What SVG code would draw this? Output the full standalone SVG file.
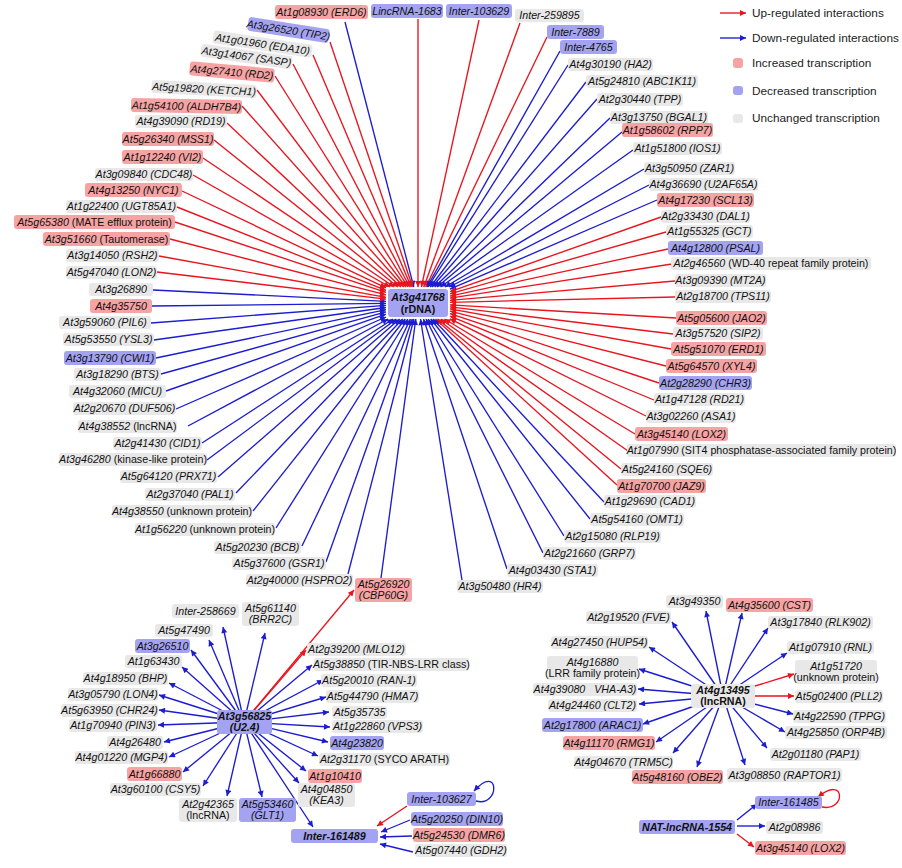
<svg xmlns="http://www.w3.org/2000/svg" width="902" height="868" viewBox="0 0 902 868">
<style>
.p{fill:#f5a3a3}.b{fill:#a3a3f2}.g{fill:#e8e8e8}
rect{rx:3px}
text{font-family:"Liberation Sans",Arial,sans-serif;font-size:10.7px;font-style:italic;fill:#111;text-anchor:middle}
.n{font-style:normal}
.bd{font-weight:bold}
.lg{font-style:normal;font-size:11.8px;text-anchor:start;fill:#222}
.lr{stroke:#e8141e;stroke-width:1.35;fill:none;marker-end:url(#mr)}
.lb{stroke:#1c1cd0;stroke-width:1.35;fill:none;marker-end:url(#mb)}
</style>
<defs>
<marker id="mr" viewBox="0 0 10 10" refX="10" refY="5" markerWidth="8" markerHeight="6" orient="auto" markerUnits="userSpaceOnUse"><path d="M0,0L10,5L0,10z" fill="#e8141e"/></marker>
<marker id="mb" viewBox="0 0 10 10" refX="10" refY="5" markerWidth="8" markerHeight="6" orient="auto" markerUnits="userSpaceOnUse"><path d="M0,0L10,5L0,10z" fill="#1c1cd0"/></marker>
</defs>
<rect x="0" y="0" width="902" height="868" fill="#fff" rx="0"/>

<g id="legend">
<line class="lr" x1="720" y1="13" x2="746" y2="13"/>
<text class="lg" x="752" y="17">Up-regulated interactions</text>
<line class="lb" x1="720" y1="38" x2="746" y2="38"/>
<text class="lg" x="752" y="42">Down-regulated interactions</text>
<rect class="p" x="733" y="58" width="10" height="10" rx="0"/>
<text class="lg" x="752" y="67">Increased transcription</text>
<rect class="b" x="733" y="86" width="10" height="9" rx="0"/>
<text class="lg" x="752" y="95">Decreased transcription</text>
<rect class="g" x="733" y="114" width="10" height="9" rx="0"/>
<text class="lg" x="752" y="122">Unchanged transcription</text>
</g>

<g id="connectors">
<line class="lb" x1="345" y1="22" x2="413.8" y2="287"/>
<line class="lr" x1="418" y1="19" x2="418" y2="287"/>
<line class="lr" x1="479" y1="20" x2="421.4" y2="287"/>
<line class="lr" x1="520" y1="23" x2="423.8" y2="287"/>
<line class="lr" x1="547" y1="37" x2="425.8" y2="287"/>
<line class="lb" x1="560" y1="51" x2="427" y2="287"/>
<line class="lb" x1="568" y1="65" x2="428.1" y2="287"/>
<line class="lb" x1="586" y1="82" x2="430.2" y2="287"/>
<line class="lb" x1="597" y1="99" x2="432" y2="287"/>
<line class="lb" x1="610" y1="118" x2="434.6" y2="287"/>
<line class="lb" x1="622" y1="132" x2="437.1" y2="287"/>
<line class="lb" x1="633" y1="150" x2="440.5" y2="287"/>
<line class="lb" x1="644" y1="169" x2="445" y2="287"/>
<line class="lb" x1="649" y1="185" x2="449.3" y2="287"/>
<line class="lb" x1="657" y1="200" x2="450" y2="289.2"/>
<line class="lr" x1="661" y1="217" x2="450" y2="291.7"/>
<line class="lr" x1="666" y1="232" x2="450" y2="293.8"/>
<line class="lr" x1="668" y1="249" x2="450" y2="296.1"/>
<line class="lr" x1="672" y1="264" x2="450" y2="298.1"/>
<line class="lr" x1="675" y1="281" x2="450" y2="300.3"/>
<line class="lr" x1="675" y1="297" x2="450" y2="302.3"/>
<line class="lr" x1="676" y1="318" x2="450" y2="304.9"/>
<line class="lr" x1="673" y1="334" x2="450" y2="306.9"/>
<line class="lr" x1="671" y1="349" x2="450" y2="308.8"/>
<line class="lr" x1="666" y1="366" x2="450" y2="311.1"/>
<line class="lr" x1="659" y1="383" x2="450" y2="313.6"/>
<line class="lr" x1="654" y1="400" x2="450" y2="316.2"/>
<line class="lr" x1="646" y1="416" x2="450" y2="318.9"/>
<line class="lr" x1="635" y1="434" x2="444.5" y2="319"/>
<line class="lr" x1="628" y1="451" x2="440.7" y2="319"/>
<line class="lr" x1="621" y1="469" x2="437.6" y2="319"/>
<line class="lr" x1="617" y1="485" x2="435.5" y2="319"/>
<line class="lb" x1="604" y1="502" x2="433" y2="319"/>
<line class="lb" x1="590" y1="519" x2="430.7" y2="319"/>
<line class="lb" x1="564" y1="536" x2="428.1" y2="319"/>
<line class="lb" x1="543" y1="553" x2="426" y2="319"/>
<line class="lb" x1="507" y1="569" x2="423.5" y2="319"/>
<line class="lb" x1="462" y1="580" x2="420.5" y2="319"/>
<line class="lb" x1="381" y1="578" x2="415.8" y2="319"/>
<line class="lb" x1="348" y1="574" x2="413.9" y2="319"/>
<line class="lb" x1="326" y1="562" x2="412.3" y2="319"/>
<line class="lb" x1="302" y1="546" x2="410.4" y2="319"/>
<line class="lb" x1="276" y1="528" x2="407.9" y2="319"/>
<line class="lb" x1="253" y1="511" x2="405.3" y2="319"/>
<line class="lb" x1="236" y1="493" x2="402.7" y2="319"/>
<line class="lb" x1="218" y1="477" x2="399.6" y2="319"/>
<line class="lb" x1="207" y1="460" x2="396.4" y2="319"/>
<line class="lb" x1="202" y1="443" x2="393.1" y2="319"/>
<line class="lb" x1="188" y1="426" x2="388.1" y2="319"/>
<line class="lb" x1="176" y1="409" x2="386" y2="317"/>
<line class="lb" x1="166" y1="391" x2="386" y2="314.2"/>
<line class="lb" x1="161" y1="374" x2="386" y2="311.8"/>
<line class="lb" x1="156" y1="358" x2="386" y2="309.7"/>
<line class="lb" x1="154" y1="340" x2="386" y2="307.5"/>
<line class="lb" x1="151" y1="323" x2="386" y2="305.4"/>
<line class="lb" x1="152" y1="306" x2="386" y2="303.4"/>
<line class="lb" x1="153" y1="290" x2="386" y2="301.4"/>
<line class="lr" x1="157" y1="272" x2="386" y2="299.2"/>
<line class="lr" x1="159" y1="256" x2="386" y2="297.3"/>
<line class="lr" x1="170" y1="239" x2="386" y2="294.9"/>
<line class="lr" x1="175" y1="222" x2="386" y2="292.3"/>
<line class="lr" x1="177" y1="207" x2="386" y2="290.3"/>
<line class="lr" x1="182" y1="191" x2="386" y2="287.8"/>
<line class="lr" x1="193" y1="175" x2="389.9" y2="287"/>
<line class="lr" x1="203" y1="158" x2="394.3" y2="287"/>
<line class="lr" x1="214" y1="140" x2="398" y2="287"/>
<line class="lr" x1="227" y1="123" x2="401" y2="287"/>
<line class="lr" x1="242" y1="106" x2="403.7" y2="287"/>
<line class="lr" x1="257" y1="90" x2="405.9" y2="287"/>
<line class="lr" x1="275" y1="76" x2="407.9" y2="287"/>
<line class="lr" x1="293" y1="64" x2="409.6" y2="287"/>
<line class="lr" x1="313" y1="55" x2="411.2" y2="287"/>
<line class="lr" x1="330" y1="42" x2="412.6" y2="287"/>

<line class="lr" x1="244" y1="722" x2="354" y2="590"/>
<line class="lr" x1="244" y1="722" x2="306" y2="650"/>
<line class="lb" x1="244" y1="722" x2="223" y2="627"/>
<line class="lb" x1="244" y1="722" x2="265" y2="633"/>
<line class="lb" x1="244" y1="722" x2="209" y2="640"/>
<line class="lb" x1="244" y1="722" x2="191" y2="650"/>
<line class="lb" x1="244" y1="722" x2="182" y2="667"/>
<line class="lb" x1="244" y1="722" x2="169" y2="683"/>
<line class="lb" x1="244" y1="722" x2="159" y2="695"/>
<line class="lb" x1="244" y1="722" x2="159" y2="710"/>
<line class="lb" x1="244" y1="722" x2="158" y2="725"/>
<line class="lb" x1="244" y1="722" x2="164" y2="742"/>
<line class="lb" x1="244" y1="722" x2="169" y2="757"/>
<line class="lb" x1="244" y1="722" x2="183" y2="772"/>
<line class="lb" x1="244" y1="722" x2="203" y2="786"/>
<line class="lb" x1="244" y1="722" x2="227" y2="796"/>
<line class="lb" x1="244" y1="722" x2="262" y2="797"/>
<line class="lb" x1="244" y1="722" x2="313" y2="827"/>
<line class="lb" x1="244" y1="722" x2="299" y2="783"/>
<line class="lb" x1="244" y1="722" x2="306" y2="771"/>
<line class="lb" x1="244" y1="722" x2="318" y2="756"/>
<line class="lb" x1="244" y1="722" x2="328" y2="742"/>
<line class="lb" x1="244" y1="722" x2="330" y2="727"/>
<line class="lb" x1="244" y1="722" x2="329" y2="712"/>
<line class="lb" x1="244" y1="722" x2="326" y2="697"/>
<line class="lb" x1="244" y1="722" x2="323" y2="680"/>
<line class="lb" x1="244" y1="722" x2="312" y2="665"/>

<line class="lr" x1="407" y1="806" x2="377" y2="826"/>
<line class="lb" x1="410" y1="820" x2="381" y2="832"/>
<line class="lb" x1="412" y1="836" x2="380" y2="837"/>
<line class="lb" x1="413" y1="852" x2="380" y2="844"/>
<path class="lb" d="M476,801 C500,808 500,762 474,791"/>

<line class="lb" x1="723" y1="696" x2="706" y2="611"/>
<line class="lb" x1="723" y1="696" x2="742" y2="613"/>
<line class="lb" x1="723" y1="696" x2="672" y2="622"/>
<line class="lb" x1="723" y1="696" x2="768" y2="628"/>
<line class="lb" x1="723" y1="696" x2="649" y2="647"/>
<line class="lb" x1="723" y1="696" x2="787" y2="653"/>
<line class="lb" x1="723" y1="696" x2="639" y2="669"/>
<line class="lr" x1="723" y1="696" x2="794" y2="674"/>
<line class="lb" x1="723" y1="696" x2="638" y2="689"/>
<line class="lr" x1="723" y1="696" x2="794" y2="696"/>
<line class="lb" x1="723" y1="696" x2="639" y2="704"/>
<line class="lb" x1="723" y1="696" x2="793" y2="714"/>
<line class="lb" x1="723" y1="696" x2="643" y2="724"/>
<line class="lb" x1="723" y1="696" x2="785" y2="732"/>
<line class="lb" x1="723" y1="696" x2="656" y2="742"/>
<line class="lb" x1="723" y1="696" x2="767" y2="748"/>
<line class="lb" x1="723" y1="696" x2="673" y2="753"/>
<line class="lb" x1="723" y1="696" x2="697" y2="767"/>
<line class="lb" x1="723" y1="696" x2="745" y2="765"/>

<line class="lb" x1="737" y1="820" x2="757" y2="804"/>
<line class="lb" x1="737" y1="826" x2="765" y2="826"/>
<line class="lr" x1="737" y1="834" x2="754" y2="847"/>
<path class="lr" d="M822,807 C846,812 846,774 818,797"/>
</g>

<g id="n-rDNA"><rect class="b" x="388" y="289" width="60" height="28"/><text class="bd" x="418" y="300.5">At3g41768</text><text class="bd n" x="418" y="313">(rDNA)</text></g>

<g id="n-ERD6"><rect class="p" x="275" y="5" width="93" height="14"/><text x="321.5" y="15.5">At1g08930 (ERD6)</text></g>
<g id="n-LincRNA-1683"><rect class="b" x="371" y="4" width="72" height="14"/><text x="407" y="14.5">LincRNA-1683</text></g>
<g id="n-Inter-103629"><rect class="b" x="446" y="4" width="66" height="14"/><text x="479" y="14.5">Inter-103629</text></g>
<g id="n-Inter-259895"><rect class="g" x="515" y="9" width="69" height="13"/><text x="549.5" y="19">Inter-259895</text></g>
<g id="n-Inter-7889"><rect class="b" x="547" y="25" width="57" height="14"/><text x="575.5" y="35.5">Inter-7889</text></g>
<g id="n-Inter-4765"><rect class="b" x="560" y="40" width="57" height="14"/><text x="588.5" y="50.5">Inter-4765</text></g>
<g id="n-HA2"><rect class="g" x="568" y="58" width="85" height="13"/><text x="610.5" y="68">At4g30190 (HA2)</text></g>
<g id="n-ABC1K11"><rect class="g" x="586" y="75" width="112" height="13"/><text x="642" y="85">At5g24810 (ABC1K11)</text></g>
<g id="n-TPP"><rect class="g" x="597" y="93" width="86" height="13"/><text x="640" y="103">At2g30440 (TPP)</text></g>
<g id="n-BGAL1"><rect class="g" x="610" y="111" width="98" height="13"/><text x="659" y="121">At3g13750 (BGAL1)</text></g>
<g id="n-RPP7"><rect class="p" x="622" y="123" width="91" height="14"/><text x="667.5" y="133.5">At1g58602 (RPP7)</text></g>
<g id="n-IOS1"><rect class="g" x="633" y="142" width="89" height="13"/><text x="677.5" y="152">At1g51800 (IOS1)</text></g>
<g id="n-ZAR1"><rect class="g" x="644" y="162" width="91" height="13"/><text x="689.5" y="172">At3g50950 (ZAR1)</text></g>
<g id="n-U2AF65A"><rect class="g" x="649" y="178" width="109" height="13"/><text x="703.5" y="188">At4g36690 (U2AF65A)</text></g>
<g id="n-SCL13"><rect class="p" x="657" y="193" width="97" height="14"/><text x="705.5" y="203.5">At4g17230 (SCL13)</text></g>
<g id="n-DAL1"><rect class="g" x="661" y="210" width="89" height="13"/><text x="705.5" y="220">At2g33430 (DAL1)</text></g>
<g id="n-GCT"><rect class="g" x="666" y="225" width="87" height="13"/><text x="709.5" y="235">At1g55325 (GCT)</text></g>
<g id="n-PSAL"><rect class="b" x="668" y="241" width="95" height="14"/><text x="715.5" y="251.5">At4g12800 (PSAL)</text></g>
<g id="n-WD40"><rect class="g" x="671" y="257" width="200" height="13"/><text x="771" y="267">At2g46560 <tspan class="n">(WD-40 repeat family protein)</tspan></text></g>
<g id="n-MT2A"><rect class="g" x="675" y="274" width="91" height="13"/><text x="720.5" y="284">At3g09390 (MT2A)</text></g>
<g id="n-TPS11"><rect class="g" x="675" y="290" width="96" height="13"/><text x="723" y="300">At2g18700 (TPS11)</text></g>
<g id="n-JAO2"><rect class="p" x="676" y="311" width="91" height="14"/><text x="721.5" y="321.5">At5g05600 (JAO2)</text></g>
<g id="n-SIP2"><rect class="g" x="673" y="327" width="90" height="13"/><text x="718" y="337">At3g57520 (SIP2)</text></g>
<g id="n-ERD1"><rect class="p" x="671" y="342" width="95" height="14"/><text x="718.5" y="352.5">At5g51070 (ERD1)</text></g>
<g id="n-XYL4"><rect class="p" x="666" y="359" width="91" height="14"/><text x="711.5" y="369.5">At5g64570 (XYL4)</text></g>
<g id="n-CHR3"><rect class="b" x="659" y="376" width="93" height="14"/><text x="705.5" y="386.5">At2g28290 (CHR3)</text></g>
<g id="n-RD21"><rect class="g" x="654" y="393" width="91" height="13"/><text x="699.5" y="403">At1g47128 (RD21)</text></g>
<g id="n-ASA1"><rect class="g" x="646" y="410" width="90" height="13"/><text x="691" y="420">At3g02260 (ASA1)</text></g>
<g id="n-LOX2a"><rect class="p" x="635" y="427" width="93" height="14"/><text x="681.5" y="437.5">At3g45140 (LOX2)</text></g>
<g id="n-SIT4"><rect class="g" x="627" y="444" width="269" height="13"/><text x="761.5" y="454">At1g07990 <tspan class="n">(SIT4 phosphatase-associated family protein)</tspan></text></g>
<g id="n-SQE6"><rect class="g" x="621" y="463" width="92" height="13"/><text x="667" y="473">At5g24160 (SQE6)</text></g>
<g id="n-JAZ9"><rect class="p" x="617" y="479" width="89" height="14"/><text x="661.5" y="489.5">At1g70700 (JAZ9)</text></g>
<g id="n-CAD1"><rect class="g" x="604" y="495" width="92" height="13"/><text x="650" y="505">At1g29690 (CAD1)</text></g>
<g id="n-OMT1"><rect class="g" x="590" y="513" width="94" height="13"/><text x="637" y="523">At5g54160 (OMT1)</text></g>
<g id="n-RLP19"><rect class="g" x="564" y="530" width="97" height="13"/><text x="612.5" y="540">At2g15080 (RLP19)</text></g>
<g id="n-GRP7"><rect class="g" x="543" y="547" width="93" height="13"/><text x="589.5" y="557">At2g21660 (GRP7)</text></g>
<g id="n-STA1"><rect class="g" x="507" y="564" width="91" height="13"/><text x="552.5" y="574">At4g03430 (STA1)</text></g>
<g id="n-HR4"><rect class="g" x="457" y="580" width="86" height="13"/><text x="500" y="590">At3g50480 (HR4)</text></g>

<g id="n-TIP2" transform="translate(288.5,30) rotate(9)"><rect class="b" x="-41" y="-7" width="82" height="14"/><text x="0" y="3.8">At3g26520 (TIP2)</text></g>
<g id="n-EDA10" transform="translate(262.5,44) rotate(8.5)"><rect class="g" x="-50" y="-6.5" width="100" height="13"/><text x="0" y="3.8">At1g01960 (EDA10)</text></g>
<g id="n-SASP" transform="translate(246.5,56.5) rotate(8)"><rect class="g" x="-46" y="-6.5" width="92" height="13"/><text x="0" y="3.8">At3g14067 (SASP)</text></g>
<g id="n-RD2" transform="translate(232,72) rotate(5)"><rect class="p" x="-42.5" y="-7" width="85" height="14"/><text x="0" y="3.8">At4g27410 (RD2)</text></g>
<g id="n-KETCH1" transform="translate(204,89) rotate(3)"><rect class="g" x="-52.5" y="-6.5" width="105" height="13"/><text x="0" y="3.8">At5g19820 (KETCH1)</text></g>
<g id="n-ALDH7B4" transform="translate(186.5,106) rotate(1)"><rect class="p" x="-55.5" y="-7" width="111" height="14"/><text x="0" y="3.8">At1g54100 (ALDH7B4)</text></g>
<g id="n-RD19"><rect class="g" x="135" y="115" width="92" height="13"/><text x="181" y="125">At4g39090 (RD19)</text></g>
<g id="n-MSS1"><rect class="p" x="122" y="132" width="92" height="14"/><text x="168" y="142.5">At5g26340 (MSS1)</text></g>
<g id="n-VI2"><rect class="p" x="122" y="150" width="81" height="14"/><text x="162.5" y="160.5">At1g12240 (VI2)</text></g>
<g id="n-CDC48"><rect class="g" x="95" y="168" width="98" height="13"/><text x="144" y="178">At3g09840 (CDC48)</text></g>
<g id="n-NYC1"><rect class="p" x="85" y="183" width="97" height="14"/><text x="133.5" y="193.5">At4g13250 (NYC1)</text></g>
<g id="n-UGT85A1"><rect class="g" x="66" y="200" width="111" height="13"/><text x="121.5" y="210">At1g22400 (UGT85A1)</text></g>
<g id="n-MATE"><rect class="p" x="14" y="215" width="161" height="14"/><text x="94.5" y="225.5">At5g65380 <tspan class="n">(MATE efflux protein)</tspan></text></g>
<g id="n-Tautomerase"><rect class="p" x="43" y="232" width="127" height="14"/><text x="106.5" y="242.5">At3g51660 <tspan class="n">(Tautomerase)</tspan></text></g>
<g id="n-RSH2"><rect class="g" x="66" y="249" width="93" height="13"/><text x="112.5" y="259">At3g14050 (RSH2)</text></g>
<g id="n-LON2"><rect class="g" x="66" y="266" width="91" height="13"/><text x="111.5" y="276">At5g47040 (LON2)</text></g>
<g id="n-At3g26890"><rect class="g" x="89" y="283" width="64" height="13"/><text x="121" y="293">At3g26890</text></g>
<g id="n-At4g35750"><rect class="p" x="90" y="299" width="62" height="14"/><text x="121" y="309.5">At4g35750</text></g>
<g id="n-PIL6"><rect class="g" x="59" y="316" width="92" height="13"/><text x="105" y="326">At3g59060 (PIL6)</text></g>
<g id="n-YSL3"><rect class="g" x="63" y="333" width="91" height="13"/><text x="108.5" y="343">At5g53550 (YSL3)</text></g>
<g id="n-CWI1"><rect class="b" x="64" y="351" width="92" height="14"/><text x="110" y="361.5">At3g13790 (CWI1)</text></g>
<g id="n-BTS"><rect class="g" x="74" y="368" width="87" height="13"/><text x="117.5" y="378">At3g18290 (BTS)</text></g>
<g id="n-MICU"><rect class="g" x="69" y="385" width="97" height="13"/><text x="117.5" y="395">At4g32060 (MICU)</text></g>
<g id="n-DUF506"><rect class="g" x="73" y="402" width="103" height="13"/><text x="124.5" y="412">At2g20670 (DUF506)</text></g>
<g id="n-At4g38552"><rect class="g" x="78" y="420" width="99" height="13"/><text x="127.5" y="430">At4g38552 <tspan class="n">(lncRNA)</tspan></text></g>
<g id="n-CID1"><rect class="g" x="113" y="437" width="89" height="13"/><text x="157.5" y="447">At2g41430 (CID1)</text></g>
<g id="n-At3g46280"><rect class="g" x="59" y="453" width="148" height="13"/><text x="133" y="463">At3g46280 <tspan class="n">(kinase-like protein)</tspan></text></g>
<g id="n-PRX71"><rect class="g" x="120" y="470" width="97" height="13"/><text x="168.5" y="480">At5g64120 (PRX71)</text></g>
<g id="n-PAL1"><rect class="g" x="145" y="488" width="90" height="13"/><text x="190" y="498">At2g37040 (PAL1)</text></g>
<g id="n-At4g38550"><rect class="g" x="112" y="505" width="140" height="13"/><text x="182" y="515">At4g38550 <tspan class="n">(unknown protein)</tspan></text></g>
<g id="n-At1g56220"><rect class="g" x="135" y="523" width="140" height="13"/><text x="205" y="533">At1g56220 <tspan class="n">(unknown protein)</tspan></text></g>
<g id="n-BCB"><rect class="g" x="214" y="541" width="87" height="13"/><text x="257.5" y="551">At5g20230 (BCB)</text></g>
<g id="n-GSR1"><rect class="g" x="232" y="557" width="94" height="13"/><text x="279" y="567">At5g37600 (GSR1)</text></g>
<g id="n-HSPRO2"><rect class="g" x="246" y="574" width="107" height="13"/><text x="299.5" y="584">At2g40000 (HSPRO2)</text></g>
<g id="n-CBP60G"><rect class="p" x="355" y="578" width="57" height="24"/><text x="383.5" y="588">At5g26920</text><text x="383.5" y="599">(CBP60G)</text></g>

<g id="n-U2.4"><rect class="b" x="217" y="710" width="55" height="24"/><text class="bd" x="244.5" y="720">At3g56825</text><text class="bd" x="244.5" y="731">(U2.4)</text></g>
<g id="n-Inter-258669"><rect class="g" x="172" y="604" width="67" height="14"/><text x="205.5" y="614.5">Inter-258669</text></g>
<g id="n-BRR2C"><rect class="g" x="242" y="602" width="57" height="24"/><text x="270.5" y="612">At5g61140</text><text x="270.5" y="623">(BRR2C)</text></g>
<g id="n-At5g47490"><rect class="g" x="155" y="624" width="58" height="13"/><text x="184" y="634">At5g47490</text></g>
<g id="n-At3g26510"><rect class="b" x="135" y="639" width="55" height="14"/><text x="162.5" y="649.5">At3g26510</text></g>
<g id="n-At1g63430"><rect class="g" x="125" y="655" width="57" height="13"/><text x="153.5" y="665">At1g63430</text></g>
<g id="n-BHP"><rect class="g" x="83" y="672" width="85" height="13"/><text x="125.5" y="682">At4g18950 (BHP)</text></g>
<g id="n-LON4"><rect class="g" x="68" y="688" width="90" height="13"/><text x="113" y="698">At3g05790 (LON4)</text></g>
<g id="n-CHR24"><rect class="g" x="61" y="704" width="97" height="13"/><text x="109.5" y="714">At5g63950 (CHR24)</text></g>
<g id="n-PIN3"><rect class="g" x="69" y="719" width="88" height="13"/><text x="113" y="729">At1g70940 (PIN3)</text></g>
<g id="n-At4g26480"><rect class="g" x="107" y="736" width="56" height="13"/><text x="135" y="746">At4g26480</text></g>
<g id="n-MGP4"><rect class="g" x="75" y="751" width="93" height="13"/><text x="121.5" y="761">At4g01220 (MGP4)</text></g>
<g id="n-At1g66880"><rect class="p" x="127" y="767" width="55" height="14"/><text x="154.5" y="777.5">At1g66880</text></g>
<g id="n-CSY5"><rect class="g" x="110" y="783" width="91" height="13"/><text x="155.5" y="793">At3g60100 (CSY5)</text></g>
<g id="n-At2g42365"><rect class="g" x="179" y="798" width="58" height="24"/><text x="208" y="808">At2g42365</text><text class="n" x="208" y="819">(lncRNA)</text></g>
<g id="n-GLT1"><rect class="b" x="239" y="798" width="57" height="24"/><text x="267.5" y="808">At5g53460</text><text x="267.5" y="819">(GLT1)</text></g>
<g id="n-KEA3"><rect class="g" x="298" y="783" width="57" height="24"/><text x="326.5" y="793">At4g04850</text><text x="326.5" y="804">(KEA3)</text></g>
<g id="n-At1g10410"><rect class="p" x="308" y="769" width="54" height="14"/><text x="335" y="779.5">At1g10410</text></g>
<g id="n-SYCO"><rect class="g" x="319" y="753" width="131" height="13"/><text x="384.5" y="763">At2g31170 <tspan class="n">(SYCO ARATH)</tspan></text></g>
<g id="n-At4g23820"><rect class="b" x="330" y="736" width="54" height="14"/><text x="357" y="746.5">At4g23820</text></g>
<g id="n-VPS3"><rect class="g" x="332" y="720" width="91" height="13"/><text x="377.5" y="730">At1g22860 (VPS3)</text></g>
<g id="n-At5g35735"><rect class="g" x="332" y="706" width="55" height="13"/><text x="359.5" y="716">At5g35735</text></g>
<g id="n-HMA7"><rect class="g" x="326" y="690" width="93" height="13"/><text x="372.5" y="700">At5g44790 (HMA7)</text></g>
<g id="n-RAN-1"><rect class="g" x="321" y="674" width="96" height="13"/><text x="369" y="684">At5g20010 (RAN-1)</text></g>
<g id="n-TIR"><rect class="g" x="314" y="658" width="155" height="13"/><text x="391.5" y="668">At5g38850 <tspan class="n">(TIR-NBS-LRR class)</tspan></text></g>
<g id="n-MLO12"><rect class="g" x="307" y="643" width="99" height="13"/><text x="356.5" y="653">At2g39200 (MLO12)</text></g>

<g id="n-Inter-161489"><rect class="b" x="291" y="829" width="87" height="14"/><text class="bd" x="334.5" y="839.5">Inter-161489</text></g>
<g id="n-Inter-103627"><rect class="b" x="407" y="792" width="69" height="14"/><text x="441.5" y="802.5">Inter-103627</text></g>
<g id="n-DIN10"><rect class="b" x="411" y="812" width="92" height="14"/><text x="457" y="822.5">At5g20250 (DIN10)</text></g>
<g id="n-DMR6"><rect class="p" x="413" y="828" width="92" height="14"/><text x="459" y="838.5">At5g24530 (DMR6)</text></g>
<g id="n-GDH2"><rect class="g" x="415" y="844" width="92" height="13"/><text x="461" y="854">At5g07440 (GDH2)</text></g>

<g id="n-At4g13495"><rect class="g" x="691" y="684" width="64" height="24"/><text class="bd" x="723" y="694">At4g13495</text><text class="bd n" x="723" y="705">(lncRNA)</text></g>
<g id="n-At3g49350"><rect class="g" x="666" y="595" width="57" height="13"/><text x="694.5" y="605">At3g49350</text></g>
<g id="n-CST"><rect class="p" x="726" y="598" width="87" height="14"/><text x="769.5" y="608.5">At4g35600 (CST)</text></g>
<g id="n-FVE"><rect class="g" x="586" y="611" width="85" height="13"/><text x="628.5" y="621">At2g19520 (FVE)</text></g>
<g id="n-RLK902"><rect class="g" x="768" y="616" width="105" height="13"/><text x="820.5" y="626">At3g17840 (RLK902)</text></g>
<g id="n-HUP54"><rect class="g" x="551" y="636" width="97" height="13"/><text x="599.5" y="646">At4g27450 (HUP54)</text></g>
<g id="n-RNL"><rect class="g" x="787" y="641" width="87" height="13"/><text x="830.5" y="651">At1g07910 (RNL)</text></g>
<g id="n-LRR"><rect class="g" x="547" y="656" width="91" height="24"/><text x="592.5" y="666">At4g16880</text><text class="n" x="592.5" y="677">(LRR family protein)</text></g>
<g id="n-At1g51720"><rect class="g" x="795" y="660" width="82" height="24"/><text x="836" y="670">At1g51720</text><text class="n" x="836" y="681">(unknown protein)</text></g>
<g id="n-VHA-A3"><rect class="g" x="533" y="683" width="104" height="13"/><text x="585" y="693">At4g39080&#160;&#160;&#160;VHA-A3)</text></g>
<g id="n-PLL2"><rect class="g" x="795" y="690" width="88" height="13"/><text x="839" y="700">At5g02400 (PLL2)</text></g>
<g id="n-CLT2"><rect class="g" x="548" y="699" width="89" height="13"/><text x="592.5" y="709">At4g24460 (CLT2)</text></g>
<g id="n-TPPG"><rect class="g" x="793" y="710" width="93" height="13"/><text x="839.5" y="720">At4g22590 (TPPG)</text></g>
<g id="n-ARAC1"><rect class="b" x="542" y="718" width="101" height="14"/><text x="592.5" y="728.5">At2g17800 (ARAC1)</text></g>
<g id="n-ORP4B"><rect class="g" x="785" y="726" width="102" height="13"/><text x="836" y="736">At4g25850 (ORP4B)</text></g>
<g id="n-RMG1"><rect class="p" x="563" y="736" width="92" height="14"/><text x="609" y="746.5">At4g11170 (RMG1)</text></g>
<g id="n-PAP1"><rect class="g" x="770" y="748" width="91" height="13"/><text x="815.5" y="758">At2g01180 (PAP1)</text></g>
<g id="n-TRM5C"><rect class="g" x="574" y="756" width="99" height="13"/><text x="623.5" y="766">At4g04670 (TRM5C)</text></g>
<g id="n-OBE2"><rect class="p" x="632" y="770" width="91" height="14"/><text x="677.5" y="780.5">At5g48160 (OBE2)</text></g>
<g id="n-RAPTOR1"><rect class="g" x="727" y="768" width="115" height="14"/><text x="784.5" y="778.5">At3g08850 (RAPTOR1)</text></g>

<g id="n-NAT-lncRNA-1554"><rect class="b" x="639" y="820" width="96" height="14"/><text class="bd" x="687" y="830.5">NAT-lncRNA-1554</text></g>
<g id="n-Inter-161485"><rect class="b" x="755" y="796" width="67" height="13"/><text x="788.5" y="806">Inter-161485</text></g>
<g id="n-At2g08986"><rect class="g" x="766" y="821" width="57" height="13"/><text x="794.5" y="831">At2g08986</text></g>
<g id="n-LOX2b"><rect class="p" x="755" y="841" width="91" height="14"/><text x="800.5" y="851.5">At3g45140 (LOX2)</text></g>
</svg>
